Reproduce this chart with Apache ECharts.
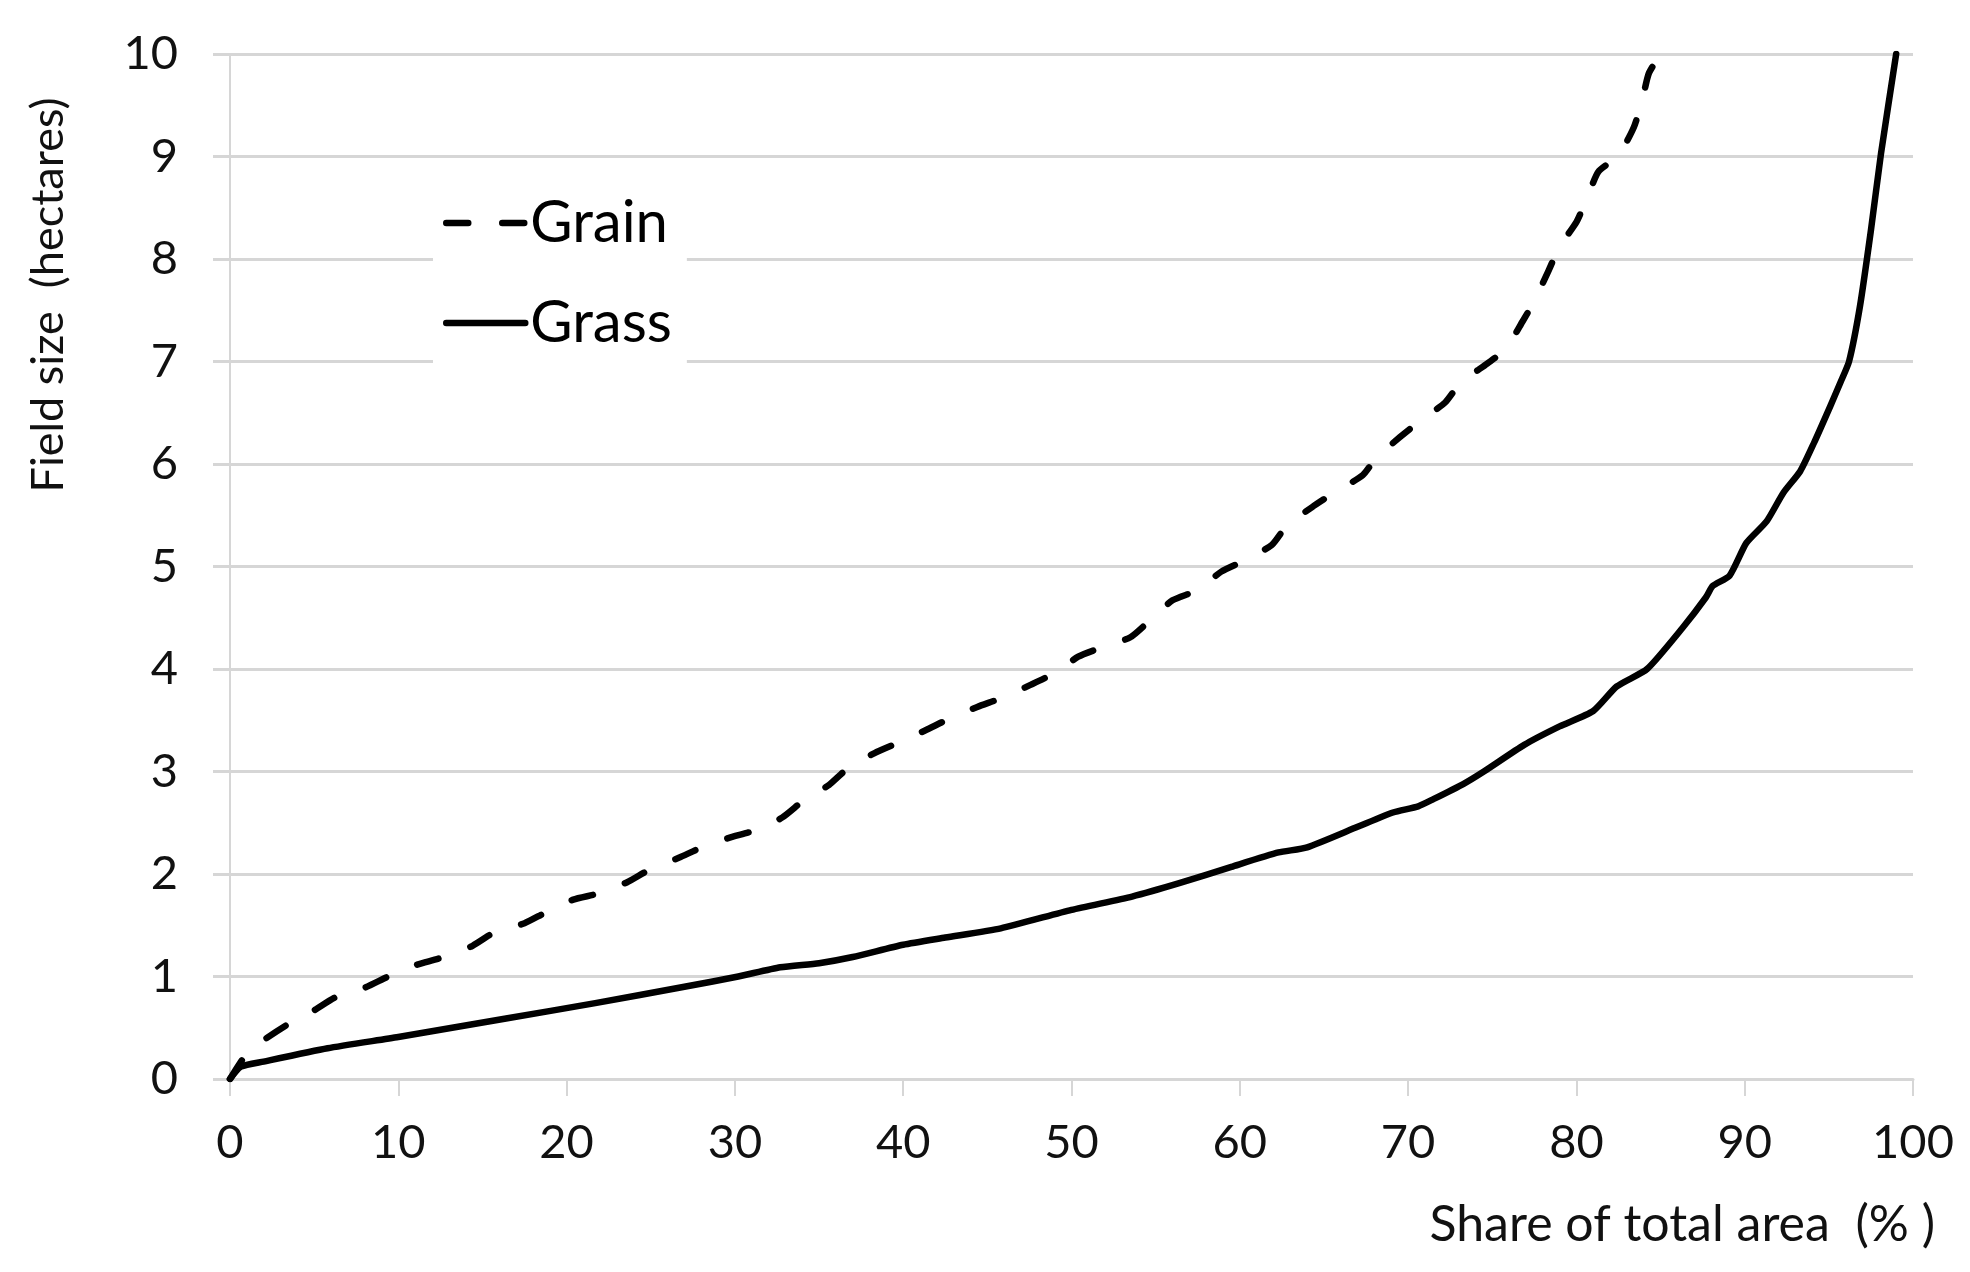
<!DOCTYPE html>
<html>
<head>
<meta charset="utf-8">
<script src="https://cdn.jsdelivr.net/npm/echarts@6/dist/echarts.min.js"></script>
<style>
html,body{margin:0;padding:0;background:#fff;}
#chart{width:1970px;height:1272px;}
</style>
</head>
<body>
<div id="chart"></div>
<script>
// ---- data ----
const seriesNames = ["Grain", "Grass"];
const xTicks = [0, 10, 20, 30, 40, 50, 60, 70, 80, 90, 100];
const yTicks = [0, 1, 2, 3, 4, 5, 6, 7, 8, 9, 10];
const xTitle = "Share of total area  (% )";
const yTitle = "Field size  (hectares)";

const grainX = [0, 1, 2, 3.4, 5, 6.3, 8, 9.4, 11, 12.5, 14.3, 15.6, 17.5, 18.7, 20.4, 21.9, 23.6, 24.9, 26.7, 27.9,
  29.6, 31.3, 32.8, 34.1, 35.6, 36.7, 38.3, 39.7, 41.3, 42.8, 44.4, 45.9, 47.5, 49, 50.4, 51.8, 53.5, 54.7, 56, 57.5,
  58.9, 60.3, 61.9, 62.8, 64.3, 65.5, 67.3, 68.1, 69.5, 70.7, 72.2, 73.1, 74.7, 75.8, 76.8, 77.5, 78.3, 79, 80, 80.6,
  81.3, 82.5, 83.4, 83.9, 84.3, 85];
const grainY = [0, 0.25, 0.38, 0.53, 0.67, 0.8, 0.89, 1.0, 1.11, 1.18, 1.29, 1.42, 1.52, 1.62, 1.75, 1.81, 1.92, 2.04, 2.16, 2.25,
  2.35, 2.43, 2.55, 2.72, 2.87, 3.03, 3.18, 3.28, 3.4, 3.52, 3.63, 3.72, 3.84, 3.96, 4.12, 4.21, 4.31, 4.48, 4.67, 4.77,
  4.95, 5.06, 5.21, 5.4, 5.58, 5.71, 5.89, 6.06, 6.26, 6.42, 6.6, 6.79, 6.98, 7.12, 7.39, 7.59, 7.87, 8.12, 8.36, 8.58,
  8.85, 9.01, 9.28, 9.54, 9.81, 10.0];

const grassX = [0, 0.65, 2, 5.8, 10, 16.4, 21.7, 27, 30.2, 32.7, 35, 37, 40, 42.5, 45.8, 50, 53.6, 56.4, 59.5, 62.3,
  64, 67, 69.1, 70.6, 71.5, 73.3, 74.5, 76.9, 79, 81, 82.4, 84.2, 86.3, 87.7, 88.1, 89.1, 90.1, 91.3, 92.3, 93.3,
  94.1, 95.1, 95.7, 96.2, 96.85, 97.5, 98.1, 99];
const grassY = [0, 0.12, 0.17, 0.3, 0.41, 0.59, 0.74, 0.9, 1.0, 1.09, 1.13, 1.19, 1.31, 1.38, 1.47, 1.65, 1.78, 1.91, 2.07, 2.21,
  2.26, 2.46, 2.6, 2.66, 2.73, 2.88, 3.0, 3.26, 3.44, 3.59, 3.83, 4.0, 4.4, 4.7, 4.81, 4.91, 5.23, 5.44, 5.72, 5.93,
  6.2, 6.57, 6.8, 7.0, 7.54, 8.28, 9.03, 10];

const pairs = (xs, ys) => xs.map((x, i) => [x, ys[i]]);

const FONT = 'Lato, "Open Sans", sans-serif';
const GRID_COLOR = '#d6d6d6';
const DASH = [22, 34];

const chart = echarts.init(document.getElementById('chart'), null, {renderer: 'canvas'});
chart.setOption({
  backgroundColor: '#ffffff',
  animation: false,
  grid: {left: 230, right: 57, top: 54, bottom: 193, containLabel: false},
  legend: {
    orient: 'vertical',
    left: 433,
    top: 178,
    padding: [15, 15, 20, 10],
    backgroundColor: '#ffffff',
    itemWidth: 79,
    itemHeight: 14,
    itemGap: 40,
    itemStyle: {opacity: 0},
    textStyle: {fontFamily: FONT, fontSize: 58, color: '#000', lineHeight: 60},
    data: [
      {name: seriesNames[0], lineStyle: {width: 6.5, type: DASH, cap: 'round', color: '#000'}},
      {name: seriesNames[1], lineStyle: {width: 6.5, type: 'solid', cap: 'round', color: '#000'}}
    ]
  },
  xAxis: {
    type: 'value',
    min: xTicks[0],
    max: xTicks[xTicks.length - 1],
    interval: 10,
    axisLine: {show: true, lineStyle: {color: GRID_COLOR, width: 3}},
    axisTick: {show: true, length: 17, lineStyle: {color: GRID_COLOR, width: 2}},
    splitLine: {show: false},
    axisLabel: {fontFamily: FONT, fontSize: 47, color: '#111', margin: 40}
  },
  yAxis: {
    type: 'value',
    min: yTicks[0],
    max: yTicks[yTicks.length - 1],
    interval: 1,
    axisLine: {show: true, lineStyle: {color: GRID_COLOR, width: 2}},
    axisTick: {show: true, length: 17, lineStyle: {color: GRID_COLOR, width: 3}},
    splitLine: {show: true, lineStyle: {color: GRID_COLOR, width: 3}},
    axisLabel: {fontFamily: FONT, fontSize: 47, color: '#111', margin: 52}
  },
  graphic: [
    {
      type: 'text',
      right: 35,
      top: 1200,
      style: {text: xTitle, fontFamily: FONT, fontSize: 50, fill: '#111'}
    },
    {
      type: 'text',
      x: 48,
      y: 295,
      rotation: Math.PI / 2,
      style: {text: yTitle, fontFamily: FONT, fontSize: 45, fill: '#111', align: 'center', verticalAlign: 'middle'}
    }
  ],
  series: [
    {
      name: seriesNames[0],
      type: 'line',
      data: pairs(grainX, grainY),
      symbol: 'none',
      smooth: 0.2,
      lineStyle: {color: '#000', width: 6.5, type: DASH, cap: 'round', join: 'round'},
      itemStyle: {color: '#000'},
      z: 3
    },
    {
      name: seriesNames[1],
      type: 'line',
      data: pairs(grassX, grassY),
      symbol: 'none',
      smooth: 0.2,
      lineStyle: {color: '#000', width: 6.5, type: 'solid', cap: 'round', join: 'round'},
      itemStyle: {color: '#000'},
      z: 3
    }
  ]
});
</script>
</body>
</html>
